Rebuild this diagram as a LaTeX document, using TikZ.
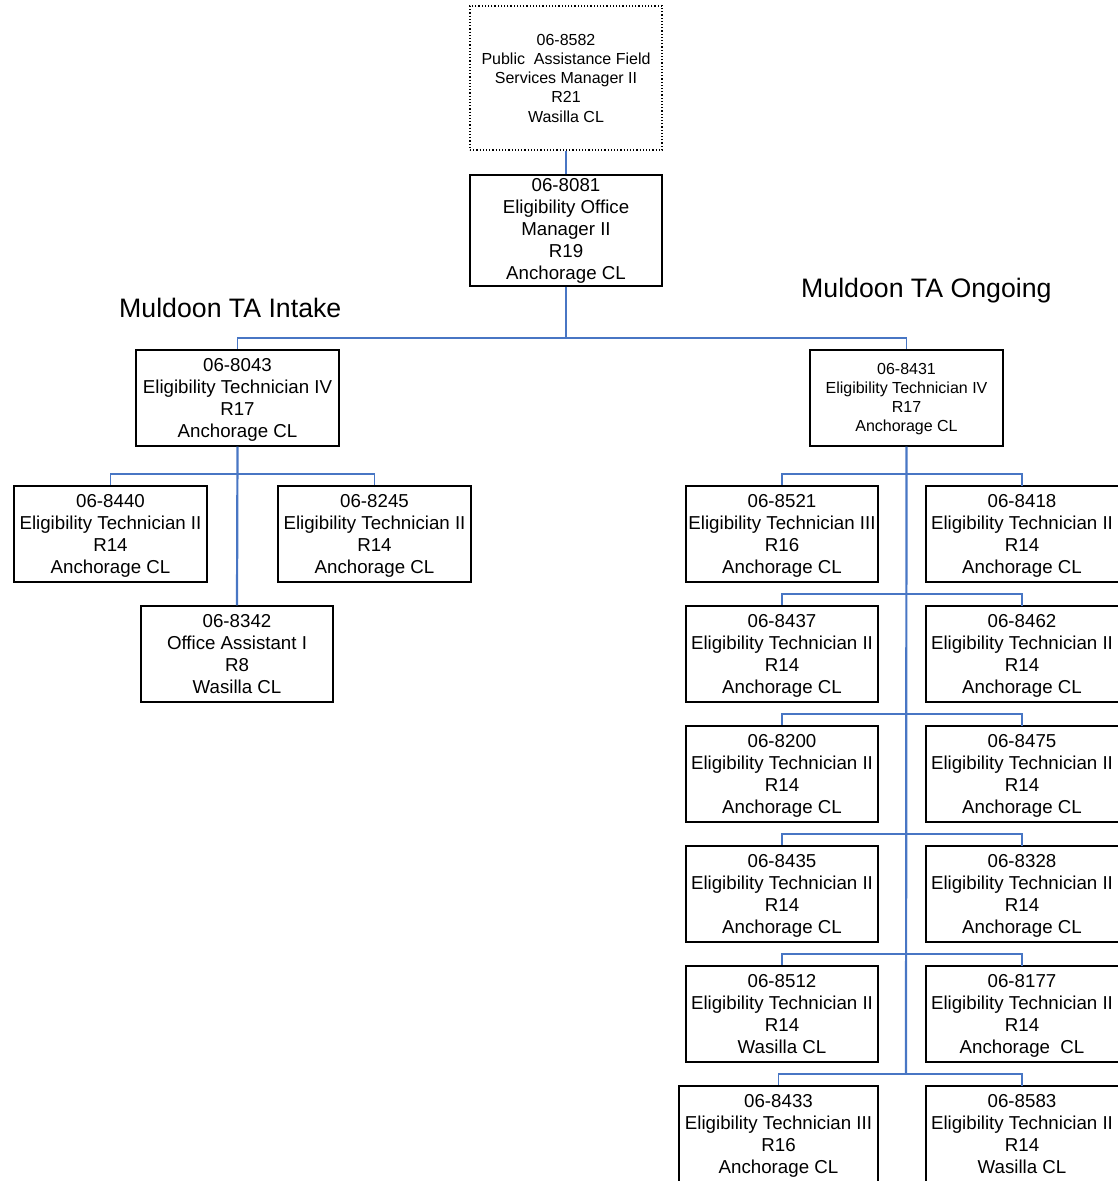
\documentclass[tikz,border=0pt]{standalone}
\usepackage{fontspec}
\setmainfont{Liberation Sans}
\definecolor{conn}{RGB}{72,118,196}
\newcommand\fstl{\rule{0pt}{19pt}}
\newcommand\lstl{\rule[-6.6pt]{0pt}{6.6pt}}
\newcommand\fsts{\rule{0pt}{17pt}}
\newcommand\lsts{\rule[-5.8pt]{0pt}{5.8pt}}
\begin{document}
\begin{tikzpicture}[x=1pt,y=-1pt,
  posbox/.style={draw=black,line width=1.3pt,inner sep=0pt,align=center,
    minimum width=192pt,minimum height=96pt,font=\fontsize{18.7}{22}\selectfont},
  rbox/.style={posbox,draw=none,outer sep=0pt},
  frame/.style={draw=black,line width=1.3pt},
  possmall/.style={posbox,font=\fontsize{16}{19.2}\selectfont},
  vacant/.style={draw=black,dotted,line width=1.2pt,inner sep=0pt,align=center,
    minimum width=192pt,minimum height=144pt,font=\fontsize{16}{19.2}\selectfont},
  head/.style={inner sep=0pt,anchor=base west,font=\fontsize{26.7}{30}\selectfont},
  trunk/.style={draw=conn,line width=2.2pt},
  branch/.style={draw=conn,line width=1.6pt}]
\useasboundingbox (0,0) rectangle (1117,1181);
% top
\node[vacant] (m8582) at (566,78) {\fsts 06-8582\\Public\ \ Assistance Field\\Services Manager II\\R21\\Wasilla CL\lsts};
\node[posbox,minimum height=111pt] (m8081) at (566,230.5) {\rule{0pt}{16pt}06-8081\\Eligibility Office\\Manager II\\R19\\Anchorage CL\lstl};
% headers
\node[head] (hIntake) at (119,317) {Muldoon TA Intake};
\node[head] (hOngoing) at (801,297) {Muldoon TA Ongoing};
% intake
\node[posbox,minimum width=203pt] (m8043) at (237.5,398) {\fstl 06-8043\\Eligibility Technician IV\\R17\\Anchorage CL\lstl};
\node[posbox,minimum width=193pt] (m8440) at (110.5,534) {\fstl 06-8440\\Eligibility Technician II\\R14\\Anchorage CL\lstl};
\node[posbox,minimum width=193pt] (m8245) at (374.5,534) {\fstl 06-8245\\Eligibility Technician II\\R14\\Anchorage CL\lstl};
\node[posbox] (m8342) at (237,654) {\fstl 06-8342\\Office Assistant I\\R8\\Wasilla CL\lstl};
% ongoing
\node[possmall,minimum width=193pt] (m8431) at (906.5,398) {\rule{0pt}{15.6pt}06-8431\\Eligibility Technician IV\\R17\\Anchorage CL\lsts};
\node[posbox] (m8521) at (782,534) {\fstl 06-8521\\Eligibility Technician III\\R16\\Anchorage CL\lstl};
\node[rbox] (m8418) at (1022,534) {\fstl 06-8418\\Eligibility Technician II\\R14\\Anchorage CL\lstl};
\node[posbox] (m8437) at (782,654) {\fstl 06-8437\\Eligibility Technician II\\R14\\Anchorage CL\lstl};
\node[rbox] (m8462) at (1022,654) {\fstl 06-8462\\Eligibility Technician II\\R14\\Anchorage CL\lstl};
\node[posbox] (m8200) at (782,774) {\fstl 06-8200\\Eligibility Technician II\\R14\\Anchorage CL\lstl};
\node[rbox] (m8475) at (1022,774) {\fstl 06-8475\\Eligibility Technician II\\R14\\Anchorage CL\lstl};
\node[posbox] (m8435) at (782,894) {\fstl 06-8435\\Eligibility Technician II\\R14\\Anchorage CL\lstl};
\node[rbox] (m8328) at (1022,894) {\fstl 06-8328\\Eligibility Technician II\\R14\\Anchorage CL\lstl};
\node[posbox] (m8512) at (782,1014) {\fstl 06-8512\\Eligibility Technician II\\R14\\Wasilla CL\lstl};
\node[rbox] (m8177) at (1022,1014) {\fstl 06-8177\\Eligibility Technician II\\R14\\Anchorage\ \ CL\lstl};
\node[posbox,minimum width=199pt] (m8433) at (778.5,1134) {\fstl 06-8433\\Eligibility Technician III\\R16\\Anchorage CL\lstl};
\node[rbox] (m8583) at (1022,1134) {\fstl 06-8583\\Eligibility Technician II\\R14\\Wasilla CL\lstl};
% frames of the right-hand boxes, whose right side lies past the edge
\foreach \n in {m8418,m8462,m8475,m8328,m8177,m8583}{
  \draw[frame] ([xshift=6pt]\n.north east) -- (\n.north west) -- (\n.south west) -- ([xshift=6pt]\n.south east);
}
% junctions
\coordinate (jtop) at (566,338);
\coordinate (jin) at (237,474);
\coordinate (j1) at (906,474);
\coordinate (j2) at (906,594);
\coordinate (j3) at (906,714);
\coordinate (j4) at (906,834);
\coordinate (j5) at (906,954);
\coordinate (j6) at (906,1074);
% connectors
\draw[trunk] (m8582.south) -- (m8081.north);
\draw[trunk] (m8081.south) -- (jtop);
\draw[branch] (jtop) -| (m8043.north);
\draw[branch] (jtop) -| (m8431.north);
\draw[trunk] (m8043.south) -- (m8342.north);
\draw[branch] (jin) -| (m8440.north);
\draw[branch] (jin) -| (m8245.north);
\draw[trunk] (m8431.south) -- (j6);
\foreach \j/\a/\b in {j1/m8521/m8418,j2/m8437/m8462,j3/m8200/m8475,j4/m8435/m8328,j5/m8512/m8177,j6/m8433/m8583}{
  \draw[branch] (\j) -| (\a.north);
  \draw[branch] (\j) -| (\b.north);
}
\end{tikzpicture}
\end{document}
